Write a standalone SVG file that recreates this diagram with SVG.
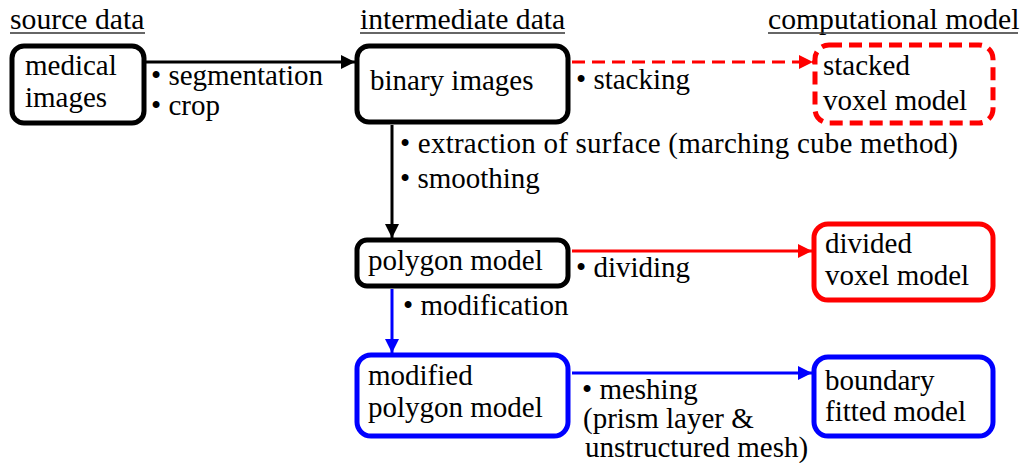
<svg xmlns="http://www.w3.org/2000/svg" width="1024" height="463" viewBox="0 0 1024 463">
<style>
.t{font-family:'Liberation Serif','Times New Roman',serif;font-size:29px;fill:#000}
.h{font-size:29.7px}
.box{fill:#fff;stroke-width:5}
.k{stroke:#000}.r{stroke:#f00}.b{stroke:#00f}
.dash{stroke-dasharray:13 7}
.ln{fill:none;stroke-width:3}
.ul{stroke:#333;stroke-width:1.5}
</style>
<defs>
<marker id="ak" markerUnits="userSpaceOnUse" markerWidth="15" markerHeight="15" refX="14" refY="7" orient="auto"><path d="M0,0 L14,7 L0,14 z" fill="#000"/></marker>
<marker id="ar" markerUnits="userSpaceOnUse" markerWidth="15" markerHeight="15" refX="14" refY="7" orient="auto"><path d="M0,0 L14,7 L0,14 z" fill="#f00"/></marker>
<marker id="ab" markerUnits="userSpaceOnUse" markerWidth="15" markerHeight="15" refX="14" refY="7" orient="auto"><path d="M0,0 L14,7 L0,14 z" fill="#00f"/></marker>
</defs>
<g id="headers">
<text class="t h" x="10" y="29">source data</text><line class="ul" x1="10" y1="33" x2="145" y2="33"/>
<text class="t h" x="360" y="29">intermediate data</text><line class="ul" x1="360" y1="33" x2="565" y2="33"/>
<text class="t h" x="768" y="29">computational model</text><line class="ul" x1="768" y1="33" x2="1018" y2="33"/>
</g>
<g id="connectors">
<path class="ln k" d="M146,62 H355" marker-end="url(#ak)"/>
<path class="ln r dash" d="M572,62 H813" marker-end="url(#ar)"/>
<path class="ln k" d="M392,125 V238" marker-end="url(#ak)"/>
<path class="ln r" d="M572,251 H812" marker-end="url(#ar)"/>
<path class="ln b" d="M392,289 V353" marker-end="url(#ab)"/>
<path class="ln b" d="M572,373 H812" marker-end="url(#ab)"/>
<text class="t" x="151" y="85">• segmentation</text>
<text class="t" x="151" y="115">• crop</text>
<text class="t" x="576" y="89">• stacking</text>
<text class="t" x="400" y="153" textLength="558" lengthAdjust="spacing">• extraction of surface (marching cube method)</text>
<text class="t" x="400" y="188">• smoothing</text>
<text class="t" x="576" y="277">• dividing</text>
<text class="t" x="403" y="315">• modification</text>
<text class="t" x="582" y="399">• meshing</text>
<text class="t" x="583" y="428">(prism layer &amp;</text>
<text class="t" x="585" y="457">unstructured mesh)</text>
</g>
<g id="medical-images"><rect class="box k" x="12" y="46" width="132" height="77" rx="12"/><text class="t" x="25" y="75">medical</text><text class="t" x="25" y="107">images</text></g>
<g id="binary-images"><rect class="box k" x="357" y="46" width="211" height="76" rx="12"/><text class="t" x="370" y="90">binary images</text></g>
<g id="stacked-voxel-model"><rect class="box r dash" x="815" y="45" width="178" height="78" rx="14"/><text class="t" x="823" y="75">stacked</text><text class="t" x="823" y="110">voxel model</text></g>
<g id="polygon-model"><rect class="box k" x="357" y="240" width="211" height="46" rx="10"/><text class="t" x="368" y="270">polygon model</text></g>
<g id="divided-voxel-model"><rect class="box r" x="814" y="224" width="179" height="76" rx="14"/><text class="t" x="825" y="253">divided</text><text class="t" x="825" y="285">voxel model</text></g>
<g id="modified-polygon-model"><rect class="box b" x="357" y="355" width="211" height="81" rx="14"/><text class="t" x="368" y="385">modified</text><text class="t" x="368" y="417">polygon model</text></g>
<g id="boundary-fitted-model"><rect class="box b" x="814" y="357" width="179" height="79" rx="14"/><text class="t" x="825" y="390">boundary</text><text class="t" x="825" y="421">fitted model</text></g>
</svg>
